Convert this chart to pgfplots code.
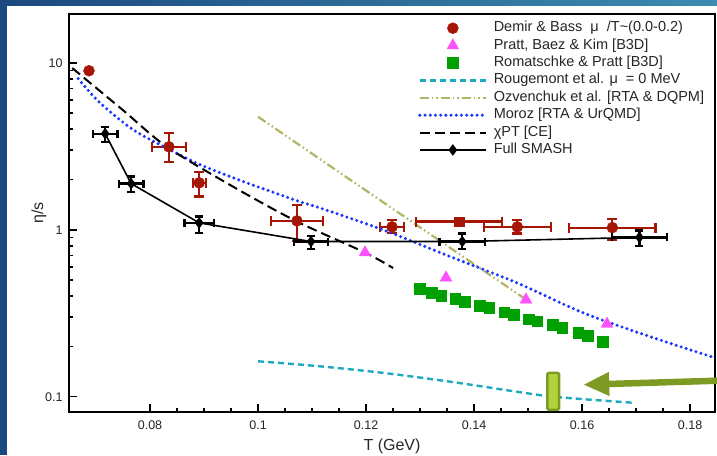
\documentclass[border=0pt]{standalone}
\usepackage{fontspec}
\setmainfont{Liberation Sans}
\usepackage{pgfplots}
\usepackage{pgfplotstable}
\pgfplotsset{compat=1.18}
\usetikzlibrary{arrows.meta}
\definecolor{dred}{RGB}{165,22,5}
\definecolor{magen}{RGB}{255,80,255}
\definecolor{grn}{RGB}{0,160,0}
\definecolor{tealc}{RGB}{30,170,190}
\definecolor{olivec}{RGB}{180,180,105}
\definecolor{bluc}{RGB}{25,55,255}
\definecolor{slideA}{RGB}{28,72,128}
\definecolor{slideB}{RGB}{60,140,175}
\definecolor{annotD}{RGB}{125,155,35}
\definecolor{annotL}{RGB}{180,210,60}

\pgfplotstableread{
T v ex eyp eym
0.0687 8.96 0 0 0
0.0835 3.14 0.0031 0.67 0.59
0.0891 1.91 0.0012 0.31 0.33
0.1072 1.13 0.0048 0.28 0.27
0.1248 1.04 0.0022 0.11 0.08
0.1480 1.04 0.0062 0.11 0.09
0.1656 1.03 0.0080 0.13 0.16
}\demirdata
\pgfplotstableread{
T v ex eyp eym
0.1372 1.12 0.0080 0.03 0.03
}\demirsqdata
\pgfplotstableread{
T v ex eyp eym
0.0717 3.76 0.0023 0.38 0.39
0.0765 1.89 0.0023 0.19 0.20
0.0891 1.10 0.0027 0.10 0.14
0.1098 0.85 0.0032 0.07 0.08
0.1378 0.85 0.0042 0.10 0.08
0.1706 0.90 0.0051 0.09 0.10
}\smashdata
\pgfplotstableread{
T v
0.1198 0.73
0.1348 0.516
0.1496 0.381
0.1646 0.273
}\prattdata
\pgfplotstableread{
T v
0.1299 0.445
0.1322 0.421
0.1339 0.403
0.1365 0.385
0.1383 0.371
0.1410 0.352
0.1428 0.340
0.1456 0.320
0.1473 0.310
0.1501 0.292
0.1517 0.284
0.1546 0.270
0.1563 0.258
0.1593 0.241
0.1610 0.232
0.1638 0.214
}\romatdata
\pgfplotstableread{
T v
0.1000 0.163
0.1106 0.153
0.1231 0.139
0.1356 0.123
0.1480 0.107
0.1535 0.101
0.1596 0.097
0.1695 0.092
}\rougedata
\pgfplotstableread{
T v
0.1000 4.75
0.1165 2.05
0.1356 0.778
0.1491 0.392
}\ozvendata
\pgfplotstableread{
T v
0.0667 8.04
0.0707 5.77
0.0769 3.97
0.0837 3.01
0.0893 2.45
0.0954 2.05
0.0985 1.88
0.1078 1.47
0.1109 1.37
0.1231 1.00
0.1356 0.69
0.1480 0.48
0.1602 0.318
0.1726 0.229
0.1846 0.171
}\morozdata
\pgfplotstableread{
T v
0.0656 9.3
0.0750 5.2
0.0831 3.14
0.0954 1.81
0.1072 1.12
0.1198 0.73
0.1250 0.59
}\chiptdata

\begin{document}
\begin{tikzpicture}
\useasboundingbox (0,0) rectangle (717pt,455pt);
\fill[white] (0,0) rectangle (717pt,455pt);
\shade[left color=slideA, right color=slideB] (0,449pt) rectangle (717pt,455pt);
\fill[slideA] (0,0) rectangle (7pt,455pt);
\begin{axis}[
  at={(69pt,43pt)}, anchor=south west,
  width=646pt, height=398pt, scale only axis,
  xmin=0.065, xmax=0.1846,
  ymode=log, ymin=0.081, ymax=19.6,
  clip=false,
  xtick={0.08,0.1,0.12,0.14,0.16,0.18},
  xticklabels={0.08,0.1,0.12,0.14,0.16,0.18},
  minor x tick num=3,
  ytick={0.1,1,10}, yticklabels={0.1,1,10},
  tick pos=left, tick align=inside,
  major tick length=8pt, minor tick length=4pt,
  every tick/.style={black, line width=1.5pt},
  axis line style={line width=2pt},
  ticklabel style={font=\fontsize{12.5}{15}\selectfont, text=black!85},
  xticklabel style={yshift=-5pt},
  yticklabel style={xshift=-3pt},
  xlabel={T (GeV)}, ylabel={η/s},
  label style={font=\fontsize{16}{19}\selectfont, text=black!85},
  xlabel style={at={(axis description cs:0.5,-0.0854)}, anchor=center},
  ylabel style={at={(axis description cs:-0.0464,0.5)}, anchor=center},
  legend style={at={(rel axis cs:0.5402,0.9867)}, anchor=north west,
    draw=none, fill=none, inner xsep=0pt, inner ysep=0pt,
    font=\fontsize{14.5}{17}\selectfont, text=black!85,
    nodes={text height=11pt, text depth=4pt, inner sep=1.2pt},
    /tikz/every odd column/.append style={column sep=5pt}},
  legend cell align=left,
  legend image code/.code={\draw[mark repeat=2,mark phase=2,#1] plot coordinates {(0pt,0pt) (33pt,0pt) (66pt,0pt)};},
]
% Demir & Bass
\addplot[only marks, mark=*, mark size=5.5pt, color=dred, mark options={fill=dred, draw=dred},
  error bars/.cd, x dir=both, x explicit, y dir=both, y explicit,
  error bar style={line width=2.2pt, dred},
  error mark options={rotate=90, dred, line width=2.2pt, mark size=5pt}]
  table[x=T, y=v, x error=ex, y error plus=eyp, y error minus=eym] {\demirdata};
\addlegendentry{Demir \& Bass\ \ μ\ \ /T\textasciitilde(0.0-0.2)}
% Pratt
\addplot[only marks, mark=triangle*, mark size=6.8pt, color=magen, mark options={fill=magen, draw=magen}]
  table[x=T, y=v] {\prattdata};
\addlegendentry{Pratt, Baez \& Kim [B3D]}
% Romatschke
\addplot[only marks, mark=square*, mark size=5.3pt, color=grn, mark options={fill=grn, draw=grn}]
  table[x=T, y=v] {\romatdata};
\addlegendentry{Romatschke \& Pratt [B3D]}
% Rougemont
\addplot[tealc, line width=2.4pt, dash pattern=on 6pt off 4pt, smooth] table[x=T, y=v] {\rougedata};
\addlegendentry{Rougemont et al. μ\ \ = 0 MeV}
% Ozvenchuk
\addplot[olivec, line width=2.2pt, dash pattern=on 9pt off 3pt on 1.5pt off 3pt on 1.5pt off 3pt] table[x=T, y=v] {\ozvendata};
\addlegendentry{Ozvenchuk et al. [RTA \& DQPM]}
% Moroz
\addplot[bluc, line width=3.4pt, line cap=round, dash pattern=on 0pt off 5.2pt, smooth] table[x=T, y=v] {\morozdata};
\addlegendentry{Moroz [RTA \& UrQMD]}
% chiPT
\addplot[black, line width=2pt, dash pattern=on 10pt off 5pt, smooth] table[x=T, y=v] {\chiptdata};
\addlegendentry{χPT [CE]}
% Full SMASH
\addplot[black, line width=1.6pt, mark=diamond*, mark size=4.5pt, mark options={solid, fill=black},
  error bars/.cd, x dir=both, x explicit, y dir=both, y explicit,
  error bar style={line width=2.3pt, black},
  error mark options={rotate=90, black, line width=2.3pt, mark size=4pt}]
  table[x=T, y=v, x error=ex, y error plus=eyp, y error minus=eym] {\smashdata};
\addlegendentry{Full SMASH}
% Demir square point
\addplot[forget plot, only marks, mark=square*, mark size=4.8pt, color=dred, mark options={fill=dred, draw=dred},
  error bars/.cd, x dir=both, x explicit, y dir=both, y explicit,
  error bar style={line width=2.2pt, dred},
  error mark options={rotate=90, dred, line width=2.2pt, mark size=5pt}]
  table[x=T, y=v, x error=ex, y error plus=eyp, y error minus=eym] {\demirsqdata};
% annotation
\draw[annotD, line width=2.5pt, fill=annotL, rounded corners=1.5pt]
  (axis cs:0.15355,0.0835) rectangle (axis cs:0.15575,0.139);
\draw[annotD, line width=6.5pt, -{Triangle[length=26pt,width=22pt]}]
  (axis cs:0.1862,0.125) -- (axis cs:0.1602,0.118);
\end{axis}
\end{tikzpicture}
\end{document}
